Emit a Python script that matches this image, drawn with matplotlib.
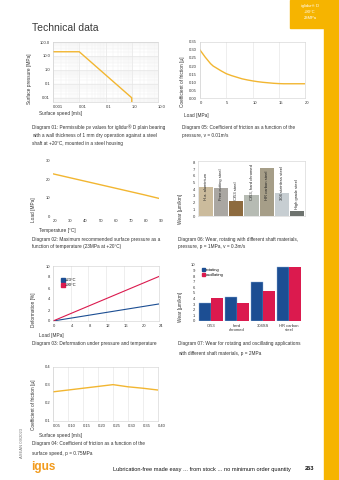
import numpy as np
import matplotlib
matplotlib.use("Agg")
import matplotlib.pyplot as plt
from matplotlib.lines import Line2D
from matplotlib.patches import Rectangle
from matplotlib.ticker import NullFormatter, LogLocator

plt.rcParams['font.family'] = ['Liberation Sans', 'DejaVu Sans']

# Diagram 01: pv values
pv_speed = [0.001, 0.01, 1.0, 1.0]
pv_pressure = [20.0, 20.0, 0.01, 0.005]
pv_xticks = [0.001, 0.01, 0.1, 1.0, 10.0]
pv_xlabels = ["0.001", "0.01", "0.1", "1.0", "10.0"]
pv_yticks = [0.01, 0.1, 1.0, 10.0, 100.0]
pv_ylabels = ["0.01", "0.1", "1.0", "10.0", "100.0"]

# Diagram 05: friction vs load
load5 = [0, 1, 2, 2.5, 3, 4, 5, 6, 7, 8, 9, 10, 11, 12, 13, 14, 15, 16, 18, 20]
mu5 = [0.300, 0.255, 0.215, 0.200, 0.190, 0.170, 0.152, 0.140, 0.130, 0.120,
       0.113, 0.107, 0.102, 0.098, 0.095, 0.092, 0.090, 0.089, 0.089, 0.089]

# Diagram 02: max load vs temperature
temp2 = [20, 30, 40, 50, 60, 70, 80, 90]
load2 = [23.0, 21.1, 19.2, 17.3, 15.4, 13.5, 11.6, 9.6]

# Diagram 06: wear with shaft materials
materials6 = ["H.a. aluminium", "Free cutting steel", "Cf53 steel", "Cf53, hard chromed",
              "HR carbon steel", "304 stainless steel", "High grade steel"]
wear6 = [4.3, 4.15, 2.3, 3.2, 7.2, 3.5, 0.8]
colors6 = ["#cbbb9c", "#aaa7a2", "#8d6b3f", "#b6bbb3", "#a69e88", "#c7ced2", "#6e736f"]

# Diagram 03: deformation
load3 = [0, 24]
def23 = [0.0, 3.1]
def90 = [0.0, 8.1]

# Diagram 07: wear rotating / oscillating
shafts7 = ["Cf53", "hard\nchromed", "304SS", "HR carbon\nsteel"]
rotating7 = [3.3, 4.3, 6.9, 9.7]
oscillating7 = [4.05, 3.3, 5.4, 9.6]

# Diagram 04: friction vs speed
speed4 = [0.05, 0.10, 0.15, 0.20, 0.25, 0.30, 0.35, 0.40]
mu4 = [0.262, 0.272, 0.282, 0.292, 0.302, 0.290, 0.282, 0.272]

YEL = "#f2b631"
BLUE = "#1c4e93"
RED = "#db1a4e"
ORANGE = "#f6b400"
TXT = "#333333"
W, H = 339.0, 480.0

fig = plt.figure(figsize=(3.39, 4.80), dpi=100)


def ax_px(x0, y0, x1, y1):
    return fig.add_axes([x0 / W, 1 - y1 / H, (x1 - x0) / W, (y1 - y0) / H])


def txt(x, y, s, size=3.4, **kw):
    kw.setdefault("color", TXT)
    kw.setdefault("va", "center")
    fig.text(x / W, 1 - y / H, s, fontsize=size, **kw)


def style(ax, grid_x=True):
    for sp in ax.spines.values():
        sp.set_color("#cfcfcf")
        sp.set_linewidth(0.4)
    ax.tick_params(which="both", length=0, labelsize=3, colors=TXT, pad=2)
    if grid_x:
        ax.grid(axis="x", color="#e2e2e2", lw=0.4)
    ax.set_axisbelow(True)


def left_xlabels(ax):
    for lb in ax.get_xticklabels():
        lb.set_ha("left")


# title
txt(32, 28, "Technical data", size=7.5, color="#3a3a3a")

# Diagram 01
ax1 = ax_px(53, 42, 158, 102)
ax1.plot(pv_speed, pv_pressure, color=YEL, lw=1.0)
ax1.set_xscale("log")
ax1.set_yscale("log")
ax1.set_xlim(0.001, 10)
ax1.set_ylim(0.005, 100)
style(ax1, grid_x=False)
ax1.grid(which="major", color="#dedede", lw=0.4)
ax1.grid(which="minor", color="#efefef", lw=0.3)
ax1.xaxis.set_minor_locator(LogLocator(subs=np.arange(2, 10)))
ax1.yaxis.set_minor_locator(LogLocator(subs=np.arange(2, 10)))
ax1.xaxis.set_minor_formatter(NullFormatter())
ax1.yaxis.set_minor_formatter(NullFormatter())
ax1.set_xticks(pv_xticks, pv_xlabels)
ax1.set_yticks(pv_yticks, pv_ylabels)
left_xlabels(ax1)
txt(30, 104, "Surface pressure [MPa]", rotation=90, va="bottom", ha="center")
txt(39, 114, "Surface speed [m/s]", ha="left")
txt(32, 127, "Diagram 01: Permissible pv values for iglidur® D plain bearing")
txt(32, 135.5, "with a wall thickness of 1 mm dry operation against a steel")
txt(32, 144, "shaft at +20°C, mounted in a steel housing")

# Diagram 05
ax5 = ax_px(200, 42, 305, 98)
ax5.plot(load5, mu5, color=YEL, lw=1.0)
ax5.set_xlim(0, 20)
ax5.set_ylim(0, 0.35)
style(ax5)
ax5.set_xticks([0, 5, 10, 15, 20])
ax5.set_yticks(np.arange(0, 0.36, 0.05), ["0.00", "0.05", "0.10", "0.15", "0.20", "0.25", "0.30", "0.35"])
left_xlabels(ax5)
txt(183, 107, "Coefficient of friction [µ]", rotation=90, va="bottom", ha="center")
txt(184, 115, "Load [MPa]", ha="left")
txt(182, 127, "Diagram 05: Coefficient of friction as a function of the")
txt(182, 136, "pressure, v = 0.01m/s")

# Diagram 02
ax2 = ax_px(53, 161, 159, 216)
ax2.plot(temp2, load2, color=YEL, lw=1.0)
ax2.set_xlim(20, 90)
ax2.set_ylim(0, 30)
style(ax2, grid_x=False)
for sp in ax2.spines.values():
    sp.set_visible(False)
ax2.set_xticks(temp2)
ax2.set_yticks([0, 10, 20, 30])
left_xlabels(ax2)
txt(33, 222, "Load [MPa]", rotation=90, va="bottom", ha="center")
txt(39, 231, "Temperature [°C]", ha="left")
txt(32, 239, "Diagram 02: Maximum recommended surface pressure as a")
txt(32, 247, "function of temperature (23MPa at +20°C)")

# Diagram 06
ax6 = ax_px(198, 161, 305, 216)
xs6 = np.arange(len(wear6))
ax6.bar(xs6, wear6, width=0.93, color=colors6)
for i, name in enumerate(materials6):
    y0 = 2.4 if wear6[i] > 1.5 else 1.1
    ax6.text(xs6[i], y0, name, rotation=90, ha="center", va="bottom", fontsize=3, color="#222222")
ax6.set_xlim(-0.5, 6.5)
ax6.set_ylim(0, 8.2)
style(ax6, grid_x=False)
ax6.set_xticks([])
ax6.set_yticks(range(0, 9))
txt(180, 224, "Wear [µm/km]", rotation=90, va="bottom", ha="center")
txt(178, 239, "Diagram 06: Wear, rotating with different shaft materials,")
txt(178, 247, "pressure, p = 1MPa, v = 0.3m/s")

# Diagram 03
ax3 = ax_px(53, 266, 159, 321)
ax3.plot(load3, def23, color=BLUE, lw=0.8)
ax3.plot(load3, def90, color=RED, lw=0.8)
ax3.set_xlim(0, 24)
ax3.set_ylim(0, 10)
style(ax3)
ax3.set_xticks(range(0, 25, 4))
ax3.set_yticks(range(0, 11, 2))
left_xlabels(ax3)
h3 = [Line2D([], [], ls="", marker="s", ms=2.2, color=BLUE),
      Line2D([], [], ls="", marker="s", ms=2.2, color=RED)]
ax3.legend(h3, ["+23°C", "+90°C"], loc="upper left", bbox_to_anchor=(0.06, 0.82),
           frameon=False, fontsize=3, handlelength=0.6, handletextpad=0.3,
           labelspacing=0.3, borderpad=0)
txt(33, 327, "Deformation [%]", rotation=90, va="bottom", ha="center")
txt(39, 336, "Load [MPa]", ha="left")
txt(32, 344, "Diagram 03: Deformation under pressure and temperature")

# Diagram 07
ax7 = ax_px(198, 265, 302, 321)
xs7 = np.arange(len(shafts7))
ax7.bar(xs7 - 0.225, rotating7, width=0.45, color=BLUE, edgecolor="#8fb0da", lw=0.3)
ax7.bar(xs7 + 0.225, oscillating7, width=0.45, color=RED)
ax7.set_xlim(-0.5, 3.5)
ax7.set_ylim(0, 10)
style(ax7, grid_x=False)
for sp in ax7.spines.values():
    sp.set_visible(False)
ax7.set_xticks(xs7, shafts7)
ax7.set_yticks(range(0, 11))
for lb in ax7.get_xticklabels():
    lb.set_linespacing(1.1)
h7 = [Rectangle((0, 0), 1, 1, color=BLUE), Rectangle((0, 0), 1, 1, color=RED)]
ax7.legend(h7, ["rotating", "oscillating"], loc="upper left", bbox_to_anchor=(0.02, 0.98),
           frameon=False, fontsize=3, handlelength=0.6, handleheight=0.6,
           handletextpad=0.3, labelspacing=0.2, borderpad=0)
txt(180, 322, "Wear [µm/km]", rotation=90, va="bottom", ha="center")
txt(178, 344, "Diagram 07: Wear for rotating and oscillating applications")
txt(178, 353, "with different shaft materials, p = 2MPa")

# Diagram 04
ax4 = ax_px(53, 367, 158, 421)
ax4.plot(speed4, mu4, color=YEL, lw=1.0)
ax4.set_xlim(0.05, 0.40)
ax4.set_ylim(0.1, 0.4)
style(ax4)
ax4.set_xticks(speed4, ["%.2f" % v for v in speed4])
ax4.set_yticks([0.1, 0.2, 0.3, 0.4])
left_xlabels(ax4)
txt(33, 430, "Coefficient of friction [µ]", rotation=90, va="bottom", ha="center")
txt(39, 436, "Surface speed [m/s]", ha="left")
txt(32, 444, "Diagram 04: Coefficient of friction as a function of the")
txt(32, 453, "surface speed, p = 0.75MPa")

# page decorations
fig.patches.append(Rectangle((290 / W, 1 - 28 / H), 49 / W, 28 / H, transform=fig.transFigure,
                             color=ORANGE, zorder=0))
fig.patches.append(Rectangle((324 / W, 0), 15 / W, 1, transform=fig.transFigure,
                             color=ORANGE, zorder=0))
txt(310, 6, "iglidur® D", size=3, color="white", ha="center")
txt(310, 12, "+90°C", size=3, color="white", ha="center")
txt(310, 18, "23MPa", size=3, color="white", ha="center")
txt(22, 443, "ASEAN 09/2023", size=3, rotation=90, ha="center", color="#777777")
txt(31, 467, "igus", size=8.5, color="#f29b1d", ha="left", weight="bold")
txt(113, 469, "Lubrication-free made easy ... from stock ... no minimum order quantity",
    size=4.1, color="#111111", ha="left")
txt(305, 469, "263", size=4.1, color="#111111", ha="left", weight="bold")

fig.savefig("out.png", dpi=100)
